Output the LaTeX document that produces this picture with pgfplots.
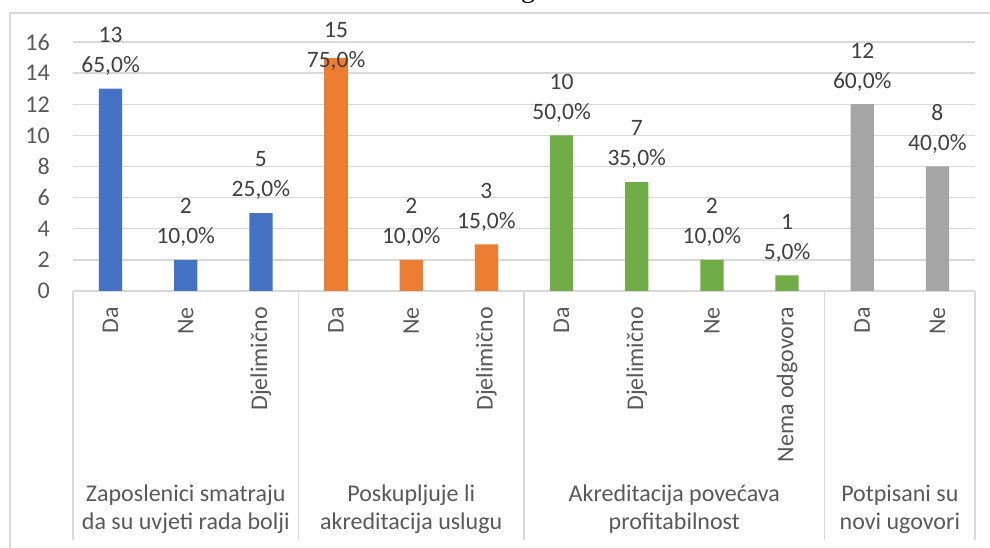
\documentclass[border=0pt]{standalone}
\usepackage{pgfplots}
\pgfplotsset{compat=1.18}
\usepackage{pgfplotstable}
\usepackage{fontspec}
\setmainfont{Carlito}
\newfontfamily\titlefont{Liberation Serif}
\definecolor{cblue}{HTML}{4472C4}
\definecolor{corange}{HTML}{ED7D31}
\definecolor{cgreen}{HTML}{70AD47}
\definecolor{cgray}{HTML}{A5A5A5}
\definecolor{gridc}{HTML}{D9D9D9}
\definecolor{tickc}{HTML}{595959}
\definecolor{labc}{HTML}{404040}

\pgfplotstableread{
x y
0.5 13
1.5 2
2.5 5
}\gA
\pgfplotstableread{
x y
3.5 15
}\gBtop
\pgfplotstableread{
x y
4.5 2
5.5 3
}\gB
\pgfplotstableread{
x y
6.5 10
7.5 7
8.5 2
9.5 1
}\gC
\pgfplotstableread{
x y
10.5 12
11.5 8
}\gD

\pgfplotsset{
  lbl/.style 2 args={
    ybar, bar width=23.3pt, bar shift=0pt, draw=none, fill=#1,
    nodes near coords={\pgfmathprintnumber[assume math mode=true]{\pgfplotspointmeta}\\\pgfmathfloattofixed{\pgfplotspointmeta}\pgfmathparse{\pgfmathresult*5}\pgfmathprintnumber[fixed,fixed zerofill,precision=1,use comma,assume math mode=true]{\pgfmathresult}\%},
    every node near coord/.style={anchor=south, inner sep=0pt, align=center, yshift=#2,
      font=\fontsize{23.5}{30}\selectfont, text=labc},
  }
}

\begin{document}
\begin{tikzpicture}[x=1pt,y=1pt]
\useasboundingbox (0,0) rectangle (990,548);
\draw[gridc, line width=1.5pt] (10,0) -- (10,535) -- (990,535);
\node[font=\titlefont\fontsize{28}{32}\selectfont, anchor=base, inner sep=0pt] at (528,550) {g};
\begin{axis}[
  at={(73pt,257pt)}, anchor=south west,
  scale only axis, width=902pt, height=249pt,
  xmin=0, xmax=12, ymin=0, ymax=16,
  ytick={0,2,...,16},
  /pgf/number format/assume math mode=true,
  xtick={0.5,1.5,...,11.5},
  xticklabels={Da,Ne,Djelimično,Da,Ne,Djelimično,Da,Djelimično,Ne,Nema odgovora,Da,Ne},
  ymajorgrids, grid style={gridc, line width=1.3pt},
  axis line style={draw=none},
  major tick length=0pt,
  tick label style={font=\fontsize{24}{28}\selectfont, text=tickc},
  yticklabel style={anchor=east, inner sep=0pt, xshift=-23pt},
  xticklabel style={rotate=90, anchor=east, inner sep=0pt},
  xticklabel shift=16pt,
  clip=false,
]
\addplot[lbl={cblue}{13pt}] table[x=x,y=y] {\gA};
\addplot[lbl={corange}{-13pt}] table[x=x,y=y] {\gBtop};
\addplot[lbl={corange}{13pt}] table[x=x,y=y] {\gB};
\addplot[lbl={cgreen}{13pt}] table[x=x,y=y] {\gC};
\addplot[lbl={cgray}{13pt}] table[x=x,y=y] {\gD};
\foreach \s in {0,3,6,10,12} {
  \edef\tmp{\noexpand\draw[gridc, line width=1.3pt] (axis cs:\s,0) -- (axis cs:\s,-16);}
  \tmp
}
\node[align=center, font=\fontsize{24}{28}\selectfont, text=tickc] at (axis cs:1.5,-14) {Zaposlenici smatraju\\da su uvjeti rada bolji};
\node[align=center, font=\fontsize{24}{28}\selectfont, text=tickc] at (axis cs:4.5,-14) {Poskupljuje li\\akreditacija uslugu};
\node[align=center, font=\fontsize{24}{28}\selectfont, text=tickc] at (axis cs:8,-14) {Akreditacija povećava\\profitabilnost};
\node[align=center, font=\fontsize{24}{28}\selectfont, text=tickc] at (axis cs:11,-14) {Potpisani su\\novi ugovori};
\end{axis}
\end{tikzpicture}
\end{document}
